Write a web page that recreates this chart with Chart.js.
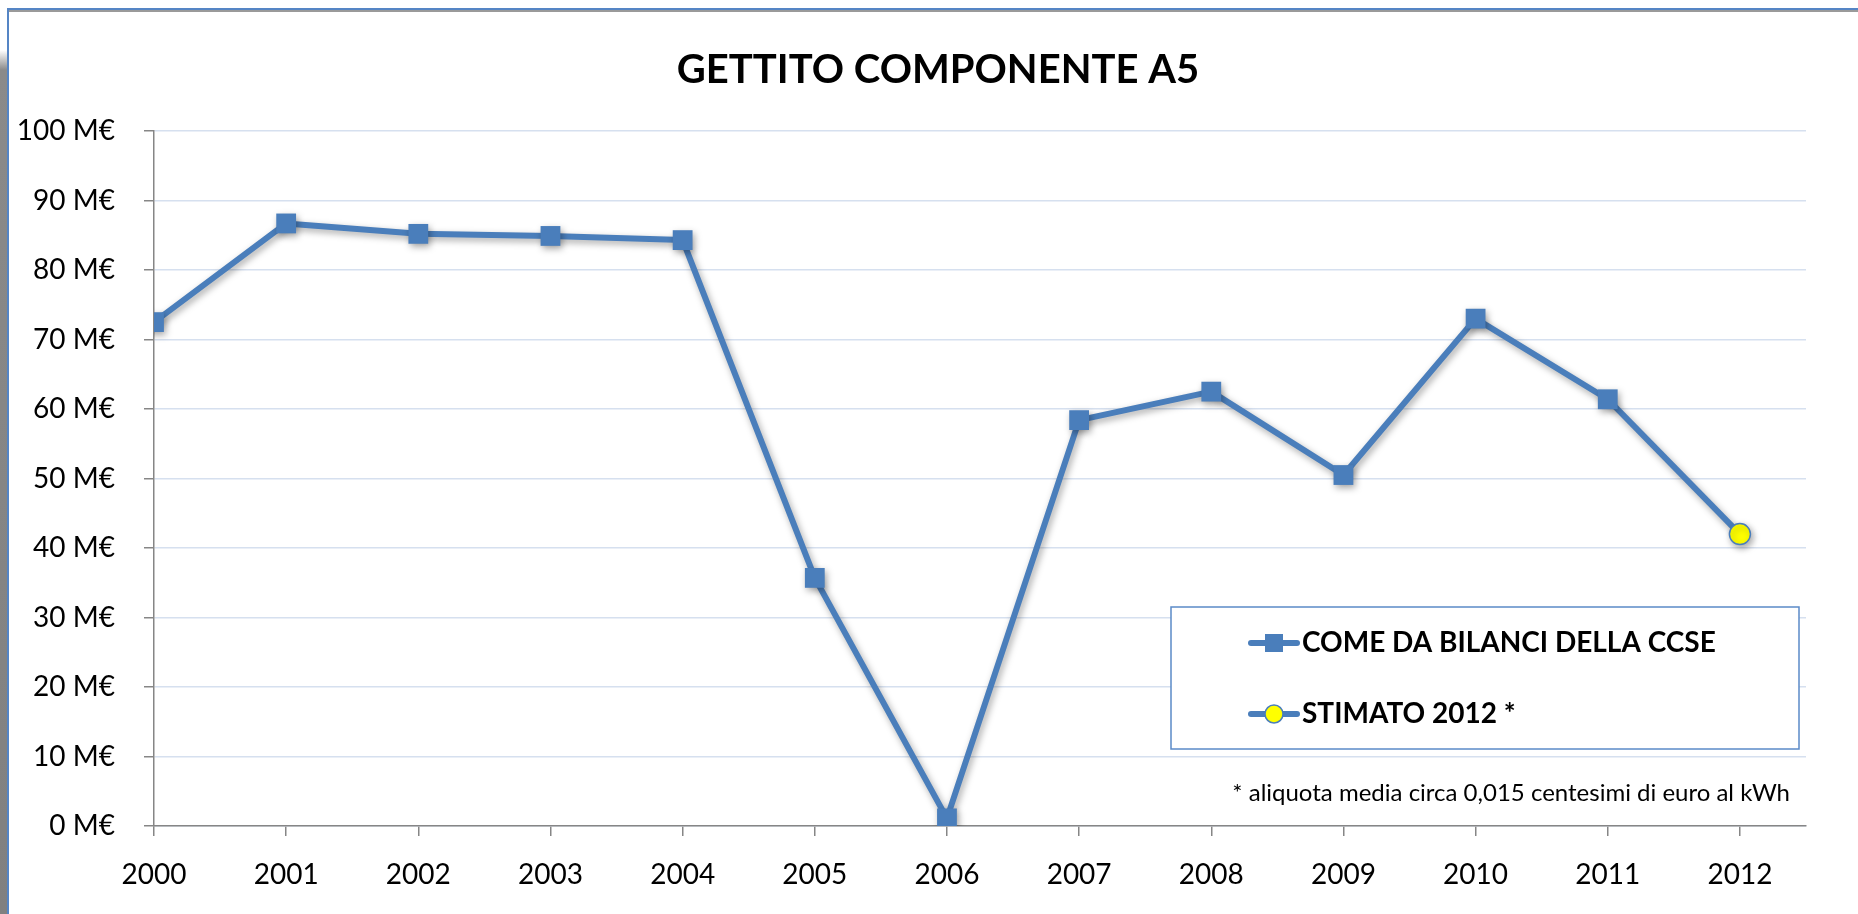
<!DOCTYPE html>
<html>
<head>
<meta charset="utf-8">
<script src="https://cdn.jsdelivr.net/npm/chart.js@4.4.0/dist/chart.umd.min.js"></script>
<style>
    html, body { margin: 0; padding: 0; background: #fff; overflow: hidden; }
    #wrap { position: relative; width: 1858px; height: 914px; }
    #grafico { position: absolute; left: 0; top: 0; }
    .bordo { position: absolute; pointer-events: none; }
    #ombra-sx { left: 0; top: 50px; width: 7px; height: 864px; background: linear-gradient(to bottom, #fff 0, #8a8a8a 20px, #808080 100%); }
    #bordo-top { left: 7px; top: 8px; width: 1851px; height: 2px; background: #5585c5; border-bottom: 2px solid #9a9a9a; }
    #bordo-sx { left: 7px; top: 8px; width: 2px; height: 906px; background: #5585c5; }
</style>
</head>
<body>
<div id="wrap">
    <canvas id="grafico" width="1858" height="914"></canvas>
    <div class="bordo" id="ombra-sx"></div>
    <div class="bordo" id="bordo-top"></div>
    <div class="bordo" id="bordo-sx"></div>
</div>
<script>
// dati (milioni di euro)
var anni = [2000, 2001, 2002, 2003, 2004, 2005, 2006, 2007, 2008, 2009, 2010, 2011, 2012];
var bilanciCCSE = [72.5, 86.7, 85.2, 84.9, 84.3, 35.7, 1.1, 58.4, 62.5, 50.5, 73.0, 61.4, null];
var stimato2012 = [null, null, null, null, null, null, null, null, null, null, null, 61.4, 42.0];
var tickY = [0, 10, 20, 30, 40, 50, 60, 70, 80, 90, 100];

var titolo = 'GETTITO COMPONENTE A5';
var nomeSerie1 = 'COME DA BILANCI DELLA CCSE';
var nomeSerie2 = 'STIMATO 2012 *';
var nota = '* aliquota media circa 0,015 centesimi di euro al kWh';

var BLU = '#4A7EBB';
var GRIGIO = '#868686';
var FONT = 'Lato, "Open Sans", sans-serif';

function punti(valori) {
    var out = [];
    for (var i = 0; i < anni.length; i++) {
        if (valori[i] !== null) out.push({ x: anni[i], y: valori[i] });
    }
    return out;
}

// ombra sotto la linea, come in excel
var ombra = {
    id: 'ombra',
    beforeDatasetsDraw: function (chart) {
        var ctx = chart.ctx;
        ctx.save();
        ctx.shadowColor = 'rgba(0,0,0,0.35)';
        ctx.shadowBlur = 7;
        ctx.shadowOffsetX = 2;
        ctx.shadowOffsetY = 3;
    },
    afterDatasetsDraw: function (chart) {
        chart.ctx.restore();
    }
};

// legenda dentro il grafico + nota
var legenda = {
    id: 'legenda',
    afterDraw: function (chart) {
        var ctx = chart.ctx;
        var bx = 1171, by = 607, bw = 628, bh = 142;
        ctx.save();
        ctx.fillStyle = '#fff';
        ctx.fillRect(bx, by, bw, bh);
        ctx.strokeStyle = '#5B8AC8';
        ctx.lineWidth = 1.5;
        ctx.strokeRect(bx, by, bw, bh);

        var righe = [643, 714];
        ctx.lineCap = 'round';
        for (var i = 0; i < 2; i++) {
            var y = righe[i];
            ctx.strokeStyle = BLU;
            ctx.lineWidth = 6;
            ctx.beginPath();
            ctx.moveTo(1251, y);
            ctx.lineTo(1297, y);
            ctx.stroke();
            if (i === 0) {
                ctx.fillStyle = BLU;
                ctx.fillRect(1274 - 9, y - 9, 18, 18);
            } else {
                ctx.beginPath();
                ctx.arc(1274, y, 9, 0, Math.PI * 2);
                ctx.fillStyle = '#FFFF00';
                ctx.fill();
                ctx.lineWidth = 1.5;
                ctx.strokeStyle = BLU;
                ctx.stroke();
            }
        }
        ctx.fillStyle = '#000';
        ctx.font = 'bold 28px ' + FONT;
        ctx.textBaseline = 'middle';
        ctx.textAlign = 'left';
        ctx.fillText(nomeSerie1, 1302, righe[0]);
        ctx.fillText(nomeSerie2, 1302, righe[1]);

        ctx.font = '24px ' + FONT;
        ctx.textAlign = 'right';
        ctx.fillText(nota, 1790, 793);
        ctx.restore();
    }
};

var ctx = document.getElementById('grafico').getContext('2d');
var myChart = new Chart(ctx, {
    type: 'line',
    data: {
        datasets: [{
            label: nomeSerie1,
            data: punti(bilanciCCSE),
            borderColor: BLU,
            backgroundColor: BLU,
            borderWidth: 6,
            borderJoinStyle: 'round',
            pointStyle: 'rect',
            pointRadius: 14,
            pointBackgroundColor: BLU,
            pointBorderWidth: 0,
            tension: 0
        }, {
            label: nomeSerie2,
            data: punti(stimato2012),
            borderColor: BLU,
            borderWidth: 6,
            pointStyle: 'circle',
            pointRadius: function (c) { return c.dataIndex === 1 ? 10.5 : 0; },
            pointBackgroundColor: '#FFFF00',
            pointBorderColor: BLU,
            pointBorderWidth: 1.5,
            tension: 0
        }]
    },
    options: {
        responsive: false,
        animation: false,
        events: [],
        layout: { padding: { left: 18, right: 0, top: 0, bottom: 0 } },
        plugins: {
            legend: { display: false },
            tooltip: { enabled: false },
            title: {
                display: true,
                text: titolo,
                color: '#000',
                font: { family: FONT, size: 40, weight: 'bold', lineHeight: 1.2 },
                padding: { top: 46, bottom: 37 }
            }
        },
        scales: {
            x: {
                type: 'linear',
                min: 2000,
                max: 2012.5,
                afterFit: function (s) { s.height = 88; },
                afterBuildTicks: function (s) {
                    s.ticks = anni.map(function (a) { return { value: a }; });
                },
                ticks: {
                    stepSize: 1,
                    color: '#000',
                    padding: 22,
                    maxRotation: 0,
                    font: { family: FONT, size: 28 },
                    callback: function (v) { return String(v); }
                },
                grid: { drawOnChartArea: false, drawTicks: true, tickLength: 10, color: GRIGIO, lineWidth: 1.5 },
                border: { color: GRIGIO, width: 1.5 }
            },
            y: {
                min: 0,
                max: 100,
                afterFit: function (s) { s.width = 136; },
                afterBuildTicks: function (s) {
                    s.ticks = tickY.map(function (t) { return { value: t }; });
                },
                ticks: {
                    color: '#000',
                    padding: 29,
                    font: { family: FONT, size: 28 },
                    callback: function (v) { return v + ' M€'; }
                },
                grid: { color: '#D6E0EF', lineWidth: 1.5, tickLength: 10, tickColor: GRIGIO },
                border: { color: GRIGIO, width: 1.5 }
            },
            destra: {
                type: 'linear',
                position: 'right',
                afterFit: function (s) { s.width = 52; },
                ticks: { display: false },
                grid: { display: false },
                border: { display: false }
            }
        }
    },
    plugins: [ombra, legenda]
});
</script>
</body>
</html>
